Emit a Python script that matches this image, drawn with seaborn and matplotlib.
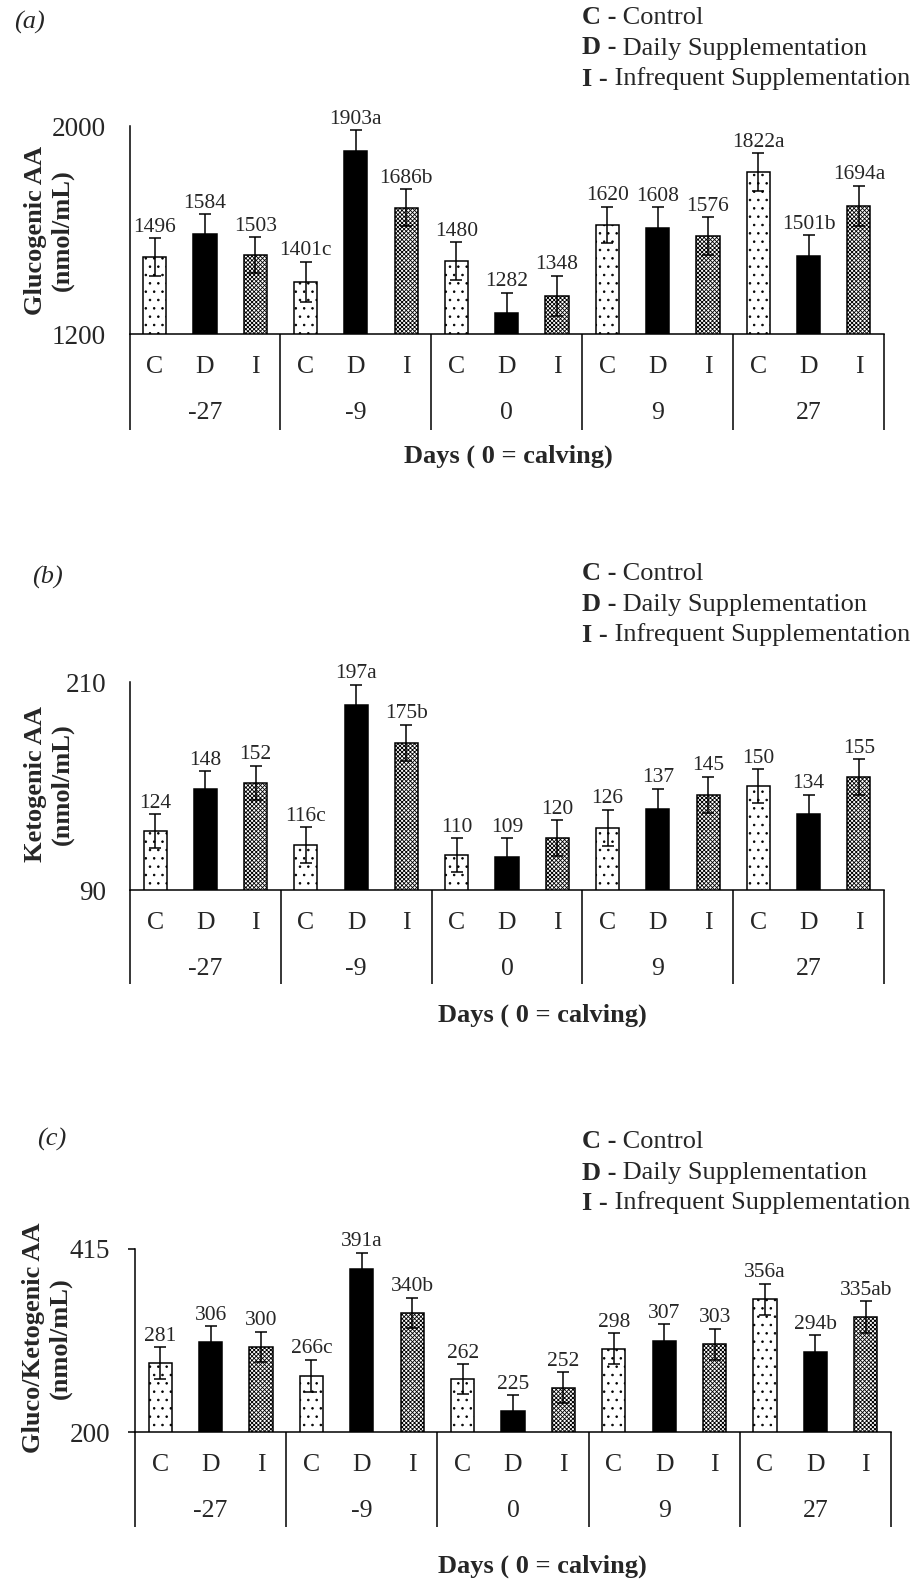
import numpy as np
import pandas as pd
import matplotlib
matplotlib.use("Agg")
import matplotlib.pyplot as plt
import seaborn as sns

# ---------------- data ----------------
days = ['-27', '-9', '0', '9', '27']
groups = ['C', 'D', 'I']
legend_keys = ['C -', 'D -', 'I -']
legend_names = ['Control', 'Daily Supplementation', 'Infrequent Supplementation']

a_values = [1496, 1584, 1503, 1401, 1903, 1686, 1480, 1282, 1348, 1620, 1608, 1576, 1822, 1501, 1694]
a_letters = ['', '', '', 'c', 'a', 'b', '', '', '', '', '', '', 'a', 'b', 'a']
a_err = [73, 77, 70, 77, 80, 70, 73, 77, 77, 70, 80, 73, 73, 80, 77]

b_values = [124, 148, 152, 116, 197, 175, 110, 109, 120, 126, 137, 145, 150, 134, 155]
b_letters = ['', '', '', 'c', 'a', 'b', '', '', '', '', '', '', '', '', '']
b_err = [9.8, 10.4, 9.8, 10.4, 11.5, 10.4, 9.8, 11.0, 10.4, 10.4, 11.5, 10.4, 9.8, 11.0, 10.4]

c_values = [281, 306, 300, 266, 391, 340, 262, 225, 252, 298, 307, 303, 356, 294, 335]
c_letters = ['', '', '', 'c', 'a', 'b', '', '', '', '', '', '', 'a', 'b', 'ab']
c_err = [18.4, 18.0, 18.0, 18.8, 19.6, 17.6, 17.6, 18.4, 18.4, 18.0, 19.6, 18.4, 18.4, 19.6, 18.4]

a_ylim = [1200, 2000]
b_ylim = [90, 210]
c_ylim = [200, 415]

ylabels = ['Glucogenic AA\n(nmol/mL)', 'Ketogenic AA\n(nmol/mL)', 'Gluco/Ketogenic AA\n(nmol/mL)']
panel_tags = ['(a)', '(b)', '(c)']
xtitle = 'Days ( 0 = calving)'

# ---------------- style ----------------
sns.set_theme(style='white')
plt.rcParams['font.family'] = ['Liberation Serif', 'DejaVu Serif']
plt.rcParams['hatch.color'] = 'black'
plt.rcParams['hatch.linewidth'] = 0.6

W, H = 918, 1579
fig = plt.figure(figsize=(W / 100, H / 100), dpi=100)

def fx(px):
    return px / W

def fy(py):
    return 1 - py / H

panels = [
    dict(values=a_values, letters=a_letters, err=a_err, ylim=a_ylim,
         box=(129.5, 884, 126, 334), table_bottom=430, ticks=False,
         ylab_xy=(49, 230), tag_xy=(29, 22), title_xy=(508, 456),
         legend_y=[17, 48, 79]),
    dict(values=b_values, letters=b_letters, err=b_err, ylim=b_ylim,
         box=(130, 884, 682, 890), table_bottom=984, ticks=False,
         ylab_xy=(49, 784), tag_xy=(47, 577), title_xy=(542, 1015),
         legend_y=[573, 605, 635]),
    dict(values=c_values, letters=c_letters, err=c_err, ylim=c_ylim,
         box=(135, 891, 1249, 1432), table_bottom=1527, ticks=True,
         ylab_xy=(47, 1338), tag_xy=(52, 1139), title_xy=(542, 1566),
         legend_y=[1142, 1173, 1203]),
]

LW = 1.1
FS_TXT = 19
for k, p in enumerate(panels):
    l, r, t, b = p['box']
    ax = fig.add_axes([fx(l), fy(b), fx(r - l), (b - t) / H])
    slots = [f'{d}|{g}' for d in days for g in groups]
    df = pd.DataFrame({
        'slot': slots,
        'group': [g for d in days for g in groups],
        'value': p['values'],
    })
    sns.barplot(data=df, x='slot', y='value', hue='group', order=slots,
                hue_order=groups, dodge=False, width=0.46,
                palette={'C': 'white', 'D': 'black', 'I': 'white'},
                edgecolor='black', linewidth=LW, errorbar=None,
                legend=False, ax=ax, zorder=2)
    for cont, g in zip(ax.containers, groups):
        for bar in cont:
            if g == 'C':
                bar.set_hatch('..')
            elif g == 'I':
                bar.set_hatch('xxxxxxxx')
    pos = np.arange(len(slots))
    ax.errorbar(pos, p['values'], yerr=p['err'], fmt='none', ecolor='black',
                elinewidth=LW, capsize=4.3, capthick=LW, zorder=3)
    for i, (v, e, lt) in enumerate(zip(p['values'], p['err'], p['letters'])):
        ax.annotate(f'{v}{lt}', xy=(i, v + e), xytext=(0, 1),
                    textcoords='offset points', ha='center', va='bottom',
                    fontsize=15.5)
    ax.set_xlim(-0.5, 14.5)
    ax.set_ylim(*p['ylim'])
    ax.set_yticks(p['ylim'])
    ax.set_yticklabels([str(v) for v in p['ylim']], fontsize=19.5)
    if p['ticks']:
        ax.tick_params(axis='y', left=True, length=5, width=LW, pad=13, color='black')
    else:
        ax.tick_params(axis='y', left=False, length=0, pad=17)
    ax.set_xticks([])
    ax.set_xlabel('')
    ax.set_ylabel('')
    for s in ['top', 'right']:
        ax.spines[s].set_visible(False)
    for s in ['left', 'bottom']:
        ax.spines[s].set_color('black')
        ax.spines[s].set_linewidth(LW)
    ax.set_facecolor('none')

    hpx = b - t
    depth = (p['table_bottom'] - b) / hpx
    trans = ax.get_xaxis_transform()
    for xs in [-0.5, 2.5, 5.5, 8.5, 11.5, 14.5]:
        ax.plot([xs, xs], [0, -depth], color='black', lw=LW, transform=trans,
                clip_on=False, solid_capstyle='butt')
    yg = -33 / hpx
    yd = -79 / hpx
    for i, s in enumerate(slots):
        ax.text(i, yg, s.split('|')[1], transform=trans, ha='center', va='center', fontsize=18.5)
    for j, d in enumerate(days):
        ax.text(3 * j + 1, yd, d, transform=trans, ha='center', va='center', fontsize=18.5)

    fig.text(fx(p['ylab_xy'][0]), fy(p['ylab_xy'][1]), ylabels[k], rotation=90,
             ha='center', va='center', fontsize=FS_TXT, fontweight='bold', linespacing=1.2)
    fig.text(fx(p['tag_xy'][0]), fy(p['tag_xy'][1]), panel_tags[k], ha='center',
             va='center', fontsize=FS_TXT, style='italic')
    fig.text(fx(p['title_xy'][0]), fy(p['title_xy'][1]), xtitle, ha='center',
             va='center', fontsize=FS_TXT, fontweight='bold')
    for key, name, ly in zip(legend_keys, legend_names, p['legend_y']):
        tk = fig.text(fx(582), fy(ly), key, ha='left', va='center', fontsize=FS_TXT,
                      fontweight='bold')
        plt.annotate(' ' + name, xy=(1, 0), xycoords=tk, ha='left', va='bottom',
                     fontsize=FS_TXT)

fig.savefig('out.png', dpi=100, facecolor='white')
